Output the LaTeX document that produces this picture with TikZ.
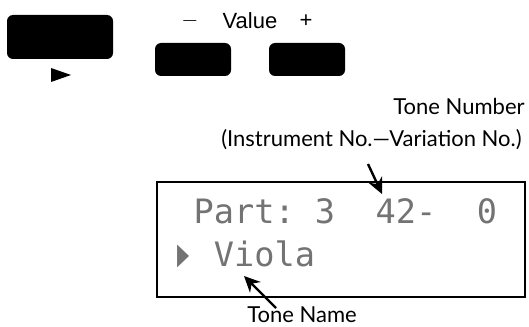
\documentclass[tikz,border=0pt]{standalone}
\usepackage{fontspec}
\setmainfont{Lato}
\newfontfamily\keyfont{Liberation Sans}
\newfontfamily\lcdfont{DejaVu Sans Mono}
\usetikzlibrary{arrows.meta}
\tikzset{
  key/.style={rectangle, fill=black, rounded corners=3pt, inner sep=0pt},
  keylbl/.style={font=\keyfont\fontsize{11}{13}\selectfont, inner sep=0pt},
  lbl/.style={font=\fontsize{11}{13}\selectfont, inner sep=0pt},
  lcdline/.style={font=\lcdfont\fontsize{16.8}{20}\selectfont, inner sep=0pt,
                  anchor=base west, text=black!55},
  lcdbox/.style={rectangle, draw, line width=1pt, inner sep=0pt,
                 minimum width=184pt, minimum height=57.5pt},
  callout/.style={-{Stealth[length=8pt,width=7.5pt]}, line width=1.2pt}
}
\begin{document}
\begin{tikzpicture}[x=0.5pt, y=-0.5pt]
  \useasboundingbox (0,0) rectangle (529,326);
  \node[key, minimum width=53pt, minimum height=22pt] (select) at (60,37) {};
  \fill (51,68) -- (51,82) -- (71,75) -- cycle;
  \node[key, minimum width=38pt, minimum height=16.5pt] (dec) at (193,59.5) {};
  \node[key, minimum width=38pt, minimum height=16.5pt] (inc) at (307,59.5) {};
  \node[keylbl] (minus) at (190,21) {$-$};
  \node[keylbl] (value) at (250,21) {Value};
  \node[keylbl] (plus) at (306,21) {+};
  \node[lbl, anchor=base east] (tonenum) at (525,114) {Tone Number};
  \node[lbl, anchor=base east] (instr) at (522,146) {(Instrument No.—Variation No.)};
  \node[lcdbox] (lcd) at (341,239.5) {};
  \node[lcdline] (line1) at (173,223) {~Part:~3~~42-~~0};
  \node[lcdline] (line2) at (173,266) {\makebox[10.11pt]{\scalebox{0.6}[1.15]{▶}}~Viola};
  \node[lbl, anchor=base west] (tonename) at (247,322) {Tone Name};
  \coordinate (numtail) at (368,164);
  \coordinate (numtip) at (382,194);
  \coordinate (nametail) at (276,308);
  \coordinate (nametip) at (244,276);
  \draw[callout] (numtail) -- (numtip);
  \draw[callout] (nametail) -- (nametip);
\end{tikzpicture}
\end{document}
